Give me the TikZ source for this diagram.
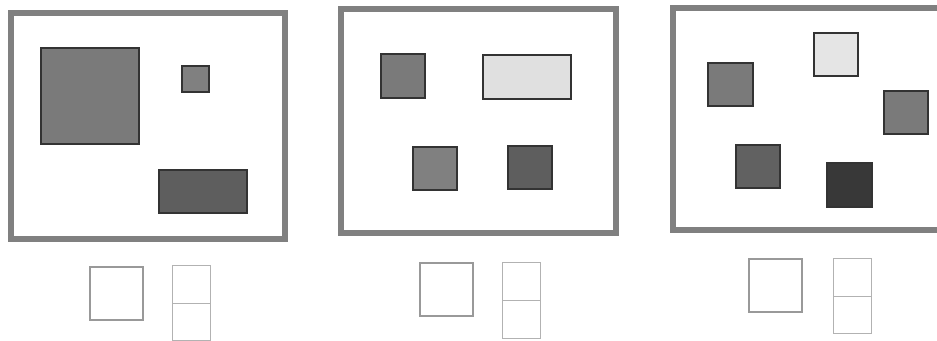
\documentclass[tikz,border=0pt]{standalone}
\usepackage{tikz}

\begin{document}
\begin{tikzpicture}[x=0.03cm,y=-0.03cm]%

  \tikzset{frame/.style={draw=black!50,line width=4.8pt},
           blob/.style={draw=black!80,line width=1.1pt},
           slot/.style={draw=black!40,line width=1pt},
           cell/.style={draw=black!30,line width=0.7pt}}

  \useasboundingbox (0,0) rectangle (937,340);
  \clip (0,0) rectangle (937,340);

  % first panel
  \draw[frame] (11,13) rectangle (285,239);
  \draw[blob,fill=black!52] (41,48) rectangle (139,144);
  \draw[blob,fill=black!50] (182,66) rectangle (209,92);
  \draw[blob,fill=black!63] (159,170) rectangle (247,213);

  % second panel
  \draw[frame] (341,9) rectangle (616,233);
  \draw[blob,fill=black!52] (381,54) rectangle (425,98);
  \draw[blob,fill=black!12] (483,55) rectangle (571,99);
  \draw[blob,fill=black!50] (413,147) rectangle (457,190);
  \draw[blob,fill=black!63] (508,146) rectangle (552,189);

  % third panel (runs off the right edge)
  \draw[frame] (673,8) rectangle (960,230);
  \draw[blob,fill=black!10] (814,33) rectangle (858,76);
  \draw[blob,fill=black!52] (708,63) rectangle (753,106);
  \draw[blob,fill=black!52] (884,91) rectangle (928,134);
  \draw[blob,fill=black!62] (736,145) rectangle (780,188);
  \draw[blob,fill=black!78] (827,163) rectangle (872,207);

  % slots under the panels
  \foreach \sx/\sy/\cx/\cy/\cm/\cb in {90/267/172/265/303/340,
                                      420/263/502/262/300/338,
                                      749/259/833/258/296/333} {
    \draw[slot] (\sx,\sy) rectangle ++(53,53);
    \draw[cell] (\cx,\cy) rectangle (\cx+38,\cm);
    \draw[cell] (\cx,\cm) rectangle (\cx+38,\cb);
  }

\end{tikzpicture}
\end{document}
